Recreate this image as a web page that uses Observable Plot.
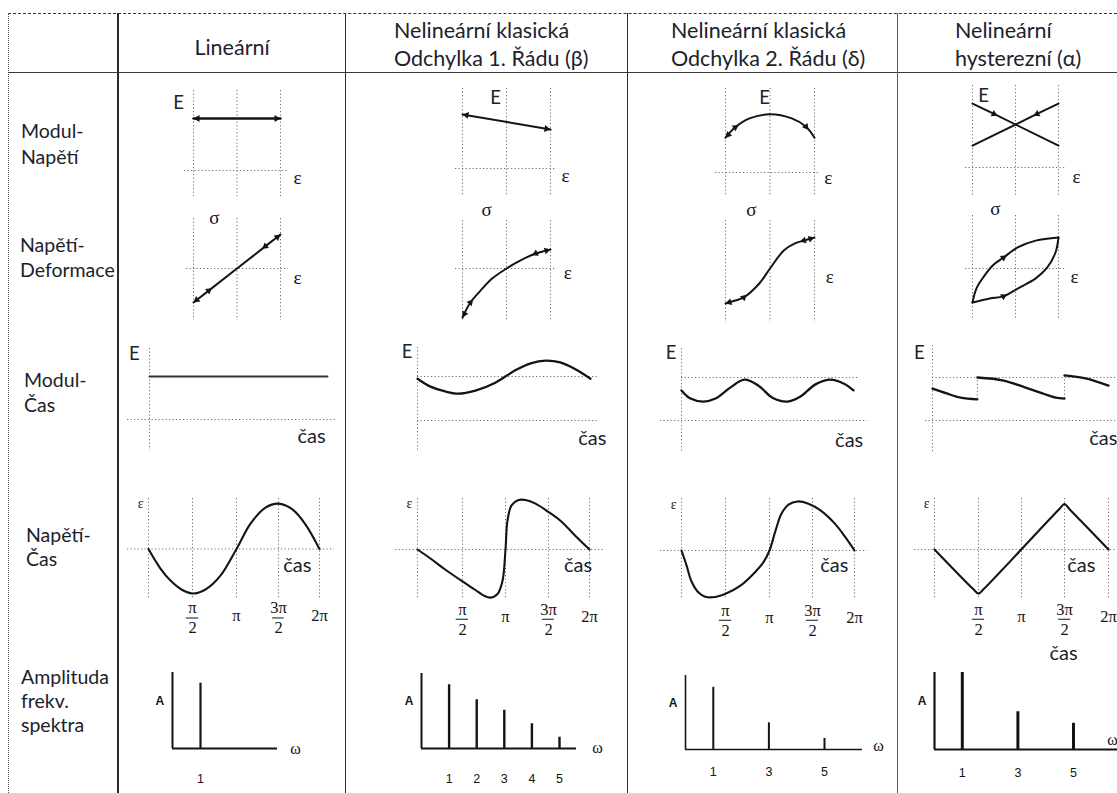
<!DOCTYPE html>
<html lang="cs">
<head>
<meta charset="utf-8">
<title>Lineární a nelineární odezva materiálu</title>
<script src="https://cdn.jsdelivr.net/npm/d3@7"></script>
<script src="https://cdn.jsdelivr.net/npm/@observablehq/plot@0.6"></script>
<style>
  html, body { margin: 0; padding: 0; background: #fff; }
  #page { position: relative; width: 1117px; height: 793px; overflow: hidden; background: #fff;
          font-family: Lato, "Open Sans", sans-serif; color: #1c222c; }
  .rule { position: absolute; }
  .head, .rowhead { position: absolute; white-space: nowrap; }
  .head { font-size: 21.5px; line-height: 28px; }
  .rowhead { font-size: 19.5px; }
</style>
</head>
<body>
<div id="page"></div>
<script>
// ---------- table headings ----------
const columnTitles = [
  ["Lineární"],
  ["Nelineární klasická", "Odchylka 1. Řádu (β)"],
  ["Nelineární klasická", "Odchylka 2. Řádu (δ)"],
  ["Nelineární", "hysterezní (α)"]
];
const rowTitles = [
  ["Modul-", "Napětí"],
  ["Napětí-", "Deformace"],
  ["Modul-", "Čas"],
  ["Napětí-", "Čas"],
  ["Amplituda", "frekv.", "spektra"]
];

// ---------- row 1: modulus E versus strain ε ----------
const modLinEps = [-1, 1];
const modLinE = [1, 1];
const modBetaEps = [-1, 1];
const modBetaE = [1.04, 0.75];
const modDeltaEps = [-1, -0.78, -0.46, 0, 0.49, 0.81, 1];
const modDeltaE = [0.67, 0.87, 1.04, 1.12, 1.04, 0.88, 0.67];
const modAlphaEpsA = [-1, -0.5, 1];
const modAlphaEA = [1.23, 1.03, 0.42];
const modAlphaEpsB = [-1, 0.5, 1];
const modAlphaEB = [0.42, 1.03, 1.23];

// ---------- row 2: stress σ versus strain ε ----------
const ssLinEps = [-1, -0.65, 0, 0.65, 1];
const ssLinSig = [-1, -0.65, 0, 0.65, 1];
const ssBetaEps = [-1, -0.82, -0.59, -0.32, 0, 0.32, 0.66, 1];
const ssBetaSig = [-1.44, -1, -0.65, -0.29, 0, 0.24, 0.44, 0.56];
const ssDeltaEps = [-1, -0.78, -0.59, -0.24, 0, 0.31, 0.56, 0.76, 1];
const ssDeltaSig = [-1.03, -0.94, -0.85, -0.44, 0, 0.53, 0.74, 0.82, 0.91];
const ssAlphaEpsUp = [-1, -0.91, -0.75, -0.53, -0.28, 0.05, 0.47, 1];
const ssAlphaSigUp = [-1, -0.59, -0.26, 0.09, 0.32, 0.62, 0.82, 0.91];
const ssAlphaEpsDown = [-1, -0.6, -0.28, 0.05, 0.47, 0.74, 0.93, 1];
const ssAlphaSigDown = [-1, -0.88, -0.82, -0.59, -0.29, 0.03, 0.47, 0.91];

// ---------- row 3: modulus E versus time (phase in units of π) ----------
const mtLinT = [0, 2];
const mtLinE = [1, 1];
const mtBetaT = [0, 0.15, 0.32, 0.47, 0.67, 0.9, 1.13, 1.31, 1.48, 1.65, 1.83, 2];
const mtBetaE = [0.95, 0.77, 0.66, 0.61, 0.68, 0.86, 1.14, 1.3, 1.36, 1.32, 1.16, 0.95];
const mtDeltaT = [0, 0.105, 0.256, 0.395, 0.57, 0.733, 0.895, 1.058, 1.233, 1.384, 1.558, 1.733, 1.884, 2];
const mtDeltaE = [0.7, 0.51, 0.44, 0.51, 0.77, 0.95, 0.81, 0.53, 0.44, 0.56, 0.84, 0.95, 0.86, 0.7];
const mtAlphaT1 = [0, 0.16, 0.32, 0.51];
const mtAlphaE1 = [0.74, 0.63, 0.53, 0.49];
const mtAlphaT2 = [0.51, 0.81, 1.05, 1.25, 1.4, 1.5];
const mtAlphaE2 = [1.0, 0.93, 0.77, 0.63, 0.53, 0.51];
const mtAlphaT3 = [1.5, 1.74, 2];
const mtAlphaE3 = [1.05, 0.98, 0.81];

// ---------- row 4: strain ε versus time (phase in units of π) ----------
const stLinT = [0, 0.136, 0.25, 0.375, 0.5, 0.648, 0.818, 1, 1.167, 1.345, 1.5, 1.67, 1.83, 2];
const stLinEps = [0, -0.44, -0.71, -0.91, -1, -0.91, -0.6, 0, 0.57, 0.93, 1.02, 0.89, 0.55, 0];
const stBetaT = [0, 0.144, 0.311, 0.5, 0.651, 0.744, 0.826, 0.907, 0.965, 1, 1.023, 1.07, 1.151, 1.233, 1.349, 1.48, 1.646, 1.829, 2];
const stBetaEps = [0, -0.2, -0.45, -0.71, -0.9, -1.02, -1.07, -0.99, -0.7, 0, 0.64, 0.98, 1.1, 1.1, 1.02, 0.86, 0.64, 0.3, 0];
const stDeltaT = [0, 0.057, 0.114, 0.182, 0.261, 0.352, 0.5, 0.67, 0.841, 0.932, 1, 1.07, 1.14, 1.221, 1.326, 1.453, 1.595, 1.774, 1.893, 2];
const stDeltaEps = [0, -0.33, -0.69, -0.91, -1.02, -1.04, -0.96, -0.78, -0.47, -0.26, 0, 0.44, 0.82, 1.02, 1.09, 1.04, 0.89, 0.58, 0.29, 0];
const stAlphaT = [0, 0.44, 0.5, 0.56, 1.44, 1.5, 1.56, 2];
const stAlphaEps = [0, -0.88, -0.98, -0.88, 0.9, 1.01, 0.89, 0];
const phaseTicks = [0.5, 1, 1.5, 2];
const phaseNum = ["π", null, "3π", null];
const phaseDen = ["2", null, "2", null];
const phaseWhole = [null, "π", null, "2π"];

// ---------- row 5: amplitude spectra ----------
const linHarm = [1];
const linAmp = [0.87];
const betaHarm = [1, 2, 3, 4, 5];
const betaAmp = [0.85, 0.65, 0.51, 0.33, 0.15];
const deltaHarm = [1, 3, 5];
const deltaAmp = [0.84, 0.36, 0.15];
const alphaHarm = [1, 3, 5];
const alphaAmp = [1.0, 0.49, 0.34];

// ---------- drawing helpers ----------
const page = document.getElementById("page");
const ink = "#141414";
const TXT = "#1c222c";
const grid = {stroke: "#6e6e6e", strokeWidth: 1, strokeDasharray: "1.2 2.3"};
const SANS = "Lato, 'Open Sans', sans-serif";
const SERIF = "'Liberation Serif', 'DejaVu Serif', serif";
const ARIAL = "'Liberation Sans', Arial, sans-serif";

const pts = (xs, ys) => xs.map((x, i) => ({x, y: ys[i]}));

function label(text, x, y, o = {}) {
  return Plot.text([{text, x, y}], {x: "x", y: "y", text: "text", fill: TXT, fontFamily: SANS, fontSize: 18.5, ...o});
}
const epsLabel = (x, y) => label("ε", x, y, {fontFamily: SERIF, fontSize: 19, fill: ink});
const sigLabel = (x, y) => label("σ", x, y, {fontFamily: SERIF, fontSize: 19, fill: ink});

// filled arrowheads placed along a curve: ["end", i, j] puts the tip on point i
// (pointing away from j); ["mid", i, j] centres a head on point i pointing toward j
function arrowHeads(points, specs, xMap, yMap, r = 3.3) {
  const sx = d3.scaleLinear(xMap.domain, xMap.range);
  const sy = d3.scaleLinear(yMap.domain, yMap.range);
  const apex = Math.sqrt(Math.PI * r * r) * 0.6824;
  const data = specs.map(([kind, i, j]) => {
    const a = points[i], b = points[j];
    let px = sx(a.x), py = sy(a.y);
    let ux = kind === "end" ? px - sx(b.x) : sx(b.x) - px;
    let uy = kind === "end" ? py - sy(b.y) : sy(b.y) - py;
    const len = Math.hypot(ux, uy);
    ux /= len; uy /= len;
    if (kind === "end") { px -= ux * apex; py -= uy * apex; }
    return {x: sx.invert(px), y: sy.invert(py), rotate: Math.atan2(ux, -uy) * 180 / Math.PI};
  });
  return Plot.dot(data, {x: "x", y: "y", rotate: "rotate", symbol: "triangle2", r, fill: ink, stroke: "none"});
}

function panel(box, xMap, yMap, marks) {
  const [x0, y0, x1, y1] = box;
  const svg = Plot.plot({
    width: x1 - x0, height: y1 - y0, margin: 0,
    x: {type: "linear", axis: null, domain: xMap.domain, range: xMap.range.map(v => v - x0)},
    y: {type: "linear", axis: null, domain: yMap.domain, range: yMap.range.map(v => v - y0)},
    style: {position: "absolute", left: `${x0}px`, top: `${y0}px`, overflow: "visible", background: "none", maxWidth: "none"},
    marks
  });
  page.appendChild(svg);
}

// ---------- table frame ----------
function rule(css) {
  const d = document.createElement("div");
  d.className = "rule";
  Object.assign(d.style, css);
  page.appendChild(d);
}
rule({left: "8px", top: "13px", width: "1109px", borderTop: "1.2px dashed #333"});
rule({left: "8px", top: "72px", width: "1109px", borderTop: "1.4px solid #3a3a3a"});
rule({left: "8px", top: "13px", height: "780px", borderLeft: "1px dotted #4a4a4a"});
rule({left: "117px", top: "13px", height: "780px", borderLeft: "2.2px solid #2a2a2a"});
rule({left: "345px", top: "13px", height: "780px", borderLeft: "1.6px solid #2e2e2e"});
rule({left: "627px", top: "13px", height: "780px", borderLeft: "1.6px solid #2e2e2e"});
rule({left: "897px", top: "13px", height: "780px", borderLeft: "1.6px solid #5a5a5a"});

const headPlaces = [
  {left: 118, top: 33, width: 228, align: "center"},
  {left: 394, top: 16},
  {left: 671, top: 16},
  {left: 955, top: 16}
];
columnTitles.forEach((lines, i) => {
  const p = headPlaces[i];
  const d = document.createElement("div");
  d.className = "head";
  d.style.left = p.left + "px";
  d.style.top = p.top + "px";
  if (p.width) { d.style.width = p.width + "px"; d.style.textAlign = p.align; }
  d.innerHTML = lines.join("<br>");
  page.appendChild(d);
});

const rowPlaces = [
  {left: 21, top: 118, lh: 26},
  {left: 20, top: 232, lh: 25},
  {left: 24, top: 367, lh: 25},
  {left: 26, top: 523, lh: 24},
  {left: 21, top: 665, lh: 24}
];
rowTitles.forEach((lines, i) => {
  const p = rowPlaces[i];
  const d = document.createElement("div");
  d.className = "rowhead";
  d.style.left = p.left + "px";
  d.style.top = p.top + "px";
  d.style.lineHeight = p.lh + "px";
  d.innerHTML = lines.join("<br>");
  page.appendChild(d);
});

// ---------- row 1: E–ε ----------
{
  const x = {domain: [-1, 1], range: [193, 280]}, y = {domain: [0, 1], range: [170, 118]};
  const p = pts(modLinEps, modLinE);
  panel([184, 90, 287, 196], x, y, [
    Plot.ruleX([-1, 0, 1], grid), Plot.ruleY([0], grid),
    Plot.line(p, {x: "x", y: "y", stroke: ink, strokeWidth: 2.4}),
    arrowHeads(p, [["end", 0, 1], ["end", 1, 0]], x, y),
    label("E", -1.34, 1.29), epsLabel(1.39, -0.15)
  ]);
}
{
  const x = {domain: [-1, 1], range: [462, 550]}, y = {domain: [0, 1], range: [168, 116]};
  const p = pts(modBetaEps, modBetaE);
  panel([455, 88, 556, 196], x, y, [
    Plot.ruleX([-1, 0, 1], grid), Plot.ruleY([0], grid),
    Plot.line(p, {x: "x", y: "y", stroke: ink, strokeWidth: 2}),
    arrowHeads(p, [["end", 0, 1], ["end", 1, 0]], x, y),
    label("E", -0.25, 1.35), epsLabel(1.34, -0.15)
  ]);
}
{
  const x = {domain: [-1, 1], range: [725, 814]}, y = {domain: [0, 1], range: [172, 120]};
  const p = pts(modDeltaEps, modDeltaE);
  panel([715, 88, 820, 196], x, y, [
    Plot.ruleX([-1, 0, 1], grid), Plot.ruleY([0], grid),
    Plot.line(p, {x: "x", y: "y", stroke: ink, strokeWidth: 2, curve: "catmull-rom"}),
    arrowHeads(p, [["end", 0, 1], ["mid", 1, 2], ["mid", 5, 6]], x, y),
    label("E", -0.12, 1.44), epsLabel(1.31, -0.1)
  ]);
}
{
  const x = {domain: [-1, 1], range: [972, 1058]}, y = {domain: [0, 1], range: [167, 115]};
  const a = pts(modAlphaEpsA, modAlphaEA), b = pts(modAlphaEpsB, modAlphaEB);
  panel([965, 85, 1066, 196], x, y, [
    Plot.ruleX([-1, 0, 1], grid), Plot.ruleY([0], grid),
    Plot.line(a, {x: "x", y: "y", stroke: ink, strokeWidth: 2}),
    Plot.line(b, {x: "x", y: "y", stroke: ink, strokeWidth: 2}),
    arrowHeads(a, [["mid", 1, 2]], x, y),
    arrowHeads(b, [["mid", 1, 0]], x, y),
    label("E", -0.74, 1.38), epsLabel(1.42, -0.19)
  ]);
}

// ---------- row 2: σ–ε ----------
{
  const x = {domain: [-1, 1], range: [193, 280]}, y = {domain: [-1, 1], range: [302, 234]};
  const p = pts(ssLinEps, ssLinSig);
  panel([186, 218, 288, 320], x, y, [
    Plot.ruleX([-1, 0, 1], grid), Plot.ruleY([0], grid),
    Plot.line(p, {x: "x", y: "y", stroke: ink, strokeWidth: 2}),
    arrowHeads(p, [["end", 0, 1], ["mid", 1, 2], ["mid", 3, 2], ["end", 4, 3]], x, y),
    sigLabel(-0.52, 1.5), epsLabel(1.39, -0.29)
  ]);
}
{
  const x = {domain: [-1, 1], range: [462, 550]}, y = {domain: [-1, 1], range: [302, 234]};
  const p = pts(ssBetaEps, ssBetaSig);
  panel([455, 220, 556, 320], x, y, [
    Plot.ruleX([-1, 0, 1], grid), Plot.ruleY([0], grid),
    Plot.line(p, {x: "x", y: "y", stroke: ink, strokeWidth: 2, curve: "catmull-rom"}),
    arrowHeads(p, [["end", 0, 1], ["mid", 1, 2], ["mid", 6, 5], ["end", 7, 6]], x, y),
    sigLabel(-0.45, 1.71), epsLabel(1.39, -0.12)
  ]);
}
{
  const x = {domain: [-1, 1], range: [725, 814]}, y = {domain: [-1, 1], range: [302, 234]};
  const p = pts(ssDeltaEps, ssDeltaSig);
  panel([715, 220, 820, 322], x, y, [
    Plot.ruleX([-1, 0, 1], grid),
    Plot.line(p, {x: "x", y: "y", stroke: ink, strokeWidth: 2, curve: "catmull-rom"}),
    arrowHeads(p, [["end", 0, 1], ["mid", 2, 3], ["mid", 7, 6], ["end", 8, 7]], x, y),
    sigLabel(-0.42, 1.71), epsLabel(1.34, -0.26)
  ]);
}
{
  const x = {domain: [-1, 1], range: [972, 1058]}, y = {domain: [-1, 1], range: [302, 234]};
  const up = pts(ssAlphaEpsUp, ssAlphaSigUp), down = pts(ssAlphaEpsDown, ssAlphaSigDown);
  panel([965, 215, 1066, 320], x, y, [
    Plot.ruleX([-1, 0, 1], grid), Plot.ruleY([0], grid),
    Plot.line(up, {x: "x", y: "y", stroke: ink, strokeWidth: 2, curve: "catmull-rom"}),
    Plot.line(down, {x: "x", y: "y", stroke: ink, strokeWidth: 2, curve: "catmull-rom"}),
    arrowHeads(up, [["mid", 4, 5]], x, y),
    arrowHeads(down, [["mid", 2, 3]], x, y),
    sigLabel(-0.47, 1.76), epsLabel(1.37, -0.26)
  ]);
}

// ---------- row 3: E–čas ----------
const casLabel = (x, y) => label("čas", x, y, {fontSize: 20});
{
  const x = {domain: [0, 2], range: [149, 327]}, y = {domain: [0, 1], range: [419, 376]};
  panel([127, 348, 336, 450], x, y, [
    Plot.ruleX([0], grid), Plot.ruleY([0], grid),
    Plot.line(pts(mtLinT, mtLinE), {x: "x", y: "y", stroke: "#333", strokeWidth: 2}),
    label("E", -0.17, 1.53), casLabel(1.82, -0.4)
  ]);
}
{
  const x = {domain: [0, 2], range: [417, 590]}, y = {domain: [0, 1], range: [420, 376]};
  panel([417, 347, 598, 452], x, y, [
    Plot.ruleX([0], grid), Plot.ruleY([0, 1], grid),
    Plot.line(pts(mtBetaT, mtBetaE), {x: "x", y: "y", stroke: ink, strokeWidth: 2.3, curve: "catmull-rom"}),
    label("E", -0.12, 1.55), casLabel(2.02, -0.41)
  ]);
}
{
  const x = {domain: [0, 2], range: [681, 853]}, y = {domain: [0, 1], range: [420, 377]};
  panel([660, 348, 867, 452], x, y, [
    Plot.ruleX([0], grid), Plot.ruleY([0], grid),
    Plot.ruleY([1], {...grid, x1: () => 0, x2: () => 2.05}),
    Plot.line(pts(mtDeltaT, mtDeltaE), {x: "x", y: "y", stroke: ink, strokeWidth: 2.3, curve: "catmull-rom"}),
    label("E", -0.12, 1.56), casLabel(1.95, -0.47)
  ]);
}
{
  const x = {domain: [0, 2], range: [932, 1108]}, y = {domain: [0, 1], range: [420, 377]};
  const segs = [pts(mtAlphaT1, mtAlphaE1), pts(mtAlphaT2, mtAlphaE2), pts(mtAlphaT3, mtAlphaE3)];
  const flat = segs.flatMap((s, k) => s.map(d => ({...d, seg: k})));
  const jumps = segs.slice(1).map((s, k) => ({t: s[0].x, lo: segs[k][segs[k].length - 1].y, hi: s[0].y}));
  panel([925, 345, 1117, 452], x, y, [
    Plot.ruleX([0], grid), Plot.ruleY([0], grid),
    Plot.ruleY([1], {...grid, x1: () => 0, x2: () => 2.2}),
    Plot.ruleX(jumps, {x: "t", y1: "lo", y2: "hi", ...grid}),
    Plot.line(flat, {x: "x", y: "y", z: "seg", stroke: ink, strokeWidth: 2.3, curve: "catmull-rom"}),
    label("E", -0.15, 1.56), casLabel(1.94, -0.42)
  ]);
}

// ---------- row 4: ε–čas ----------
function phasePanel(box, range, yRange, t, e, casAt, extra = []) {
  const x = {domain: [0, 0.5, 1, 1.5, 2], range}, y = {domain: [-1, 1], range: yRange};
  const ticks = phaseTicks.map((v, i) => ({v, num: phaseNum[i], den: phaseDen[i], whole: phaseWhole[i]}));
  const fracs = ticks.filter(d => d.num);
  const tickFont = {fontFamily: SERIF, fontSize: 16.5, fill: ink};
  panel(box, x, y, [
    Plot.ruleX([0, ...phaseTicks], grid), Plot.ruleY([0], grid),
    Plot.line(pts(t, e), {x: "x", y: "y", stroke: ink, strokeWidth: 2.1, curve: "catmull-rom"}),
    Plot.text(fracs, {x: "v", y: () => -1.33, text: "num", ...tickFont}),
    Plot.ruleY(fracs, {y: () => -1.55, x1: d => d.v - 0.07, x2: d => d.v + 0.07, stroke: ink, strokeWidth: 1}),
    Plot.text(fracs, {x: "v", y: () => -1.78, text: "den", ...tickFont}),
    Plot.text(ticks.filter(d => d.whole), {x: "v", y: () => -1.5, text: "whole", ...tickFont}),
    label("ε", -0.09, 1.02, {fontFamily: SERIF, fontSize: 14, fill: ink}),
    casLabel(...casAt),
    ...extra
  ]);
}
phasePanel([127, 498, 334, 598], [148, 192, 236, 278, 319], [593, 504], stLinT, stLinEps, [1.73, -0.37]);
phasePanel([395, 498, 603, 598], [417, 462, 505, 548, 589], [594, 504], stBetaT, stBetaEps, [1.86, -0.36]);
phasePanel([660, 498, 867, 598], [681, 725, 769, 812, 854], [595, 505], stDeltaT, stDeltaEps, [1.76, -0.33]);
phasePanel([914, 498, 1117, 598], [934, 978, 1021, 1064, 1108], [594, 504], stAlphaT, stAlphaEps, [1.69, -0.36],
  [casLabel(1.49, -2.31)]);

// ---------- row 5: amplitude spectra ----------
function spectrumPanel(box, xRange, yRange, harm, amp, barWidth, axisWidth, omegaAt, tickY) {
  const x = {domain: [0, xRange[2]], range: [xRange[0], xRange[1]]}, y = {domain: [0, 1], range: yRange};
  panel(box, x, y, [
    Plot.ruleX([0], {stroke: ink, strokeWidth: axisWidth}),
    Plot.ruleY([0], {stroke: ink, strokeWidth: axisWidth}),
    Plot.ruleX(pts(harm, amp), {x: "x", y1: () => 0, y2: "y", stroke: ink, strokeWidth: barWidth}),
    Plot.text(harm, {x: d => d, y: () => tickY, text: d => String(d), fontFamily: ARIAL, fontSize: 12.5, fill: ink}),
    label("A", -0.45, 0.63, {fontFamily: ARIAL, fontSize: 12, fontWeight: "bold", fill: ink}),
    label("ω", omegaAt[0], omegaAt[1], {fontFamily: SERIF, fontSize: 16, fill: ink})
  ]);
}
spectrumPanel([172, 672, 277, 748], [172, 200, 1], [748, 673], linHarm, linAmp, 2.2, 2, [4.39, -0.01], -0.4);
spectrumPanel([421, 673, 576, 748], [421, 559, 5], [748, 673], betaHarm, betaAmp, 2.4, 2, [6.38, 0.01], -0.4);
spectrumPanel([685, 675, 862, 749], [685, 824, 5], [749, 675], deltaHarm, deltaAmp, 2, 1.6, [6.94, 0.05], -0.31);
spectrumPanel([934, 672, 1117, 749], [934, 1073, 5], [749, 672], alphaHarm, alphaAmp, 3, 2.2, [6.4, 0.12], -0.3);
</script>
</body>
</html>
